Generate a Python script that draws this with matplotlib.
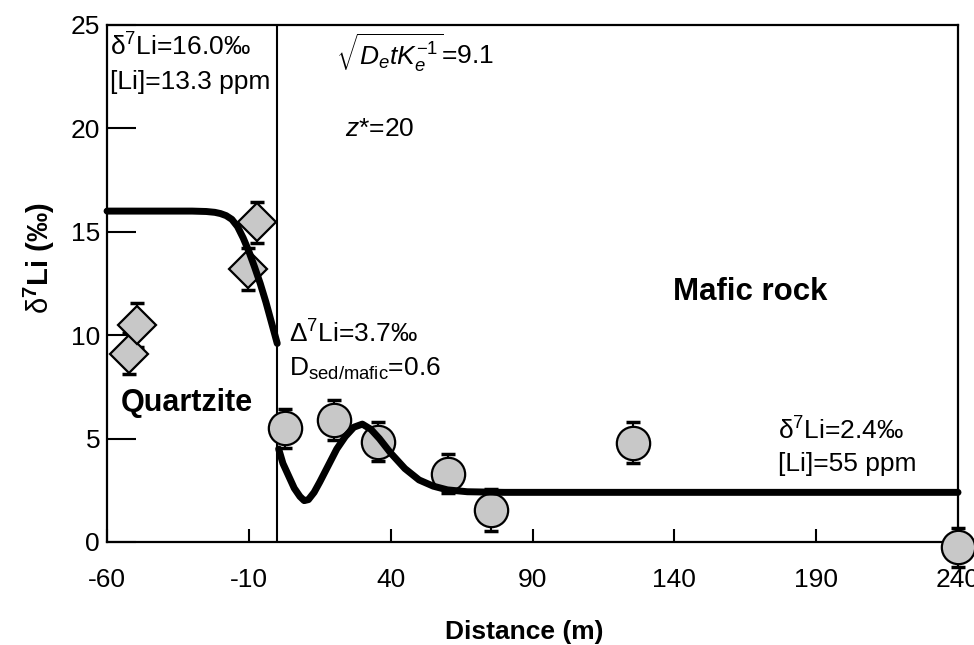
import matplotlib
matplotlib.use("Agg")
import matplotlib.pyplot as plt

plt.rcParams['font.family'] = ['Liberation Sans', 'DejaVu Sans']
plt.rcParams['mathtext.fontset'] = 'custom'
plt.rcParams['mathtext.rm'] = 'Liberation Sans'
plt.rcParams['mathtext.it'] = 'Liberation Sans:italic'
plt.rcParams['mathtext.bf'] = 'Liberation Sans:bold'
plt.rcParams['axes.unicode_minus'] = False

# Quartzite samples (diamonds)
quartz_x = [-52.2, -49.4, -10.2, -7.1]
quartz_y = [9.1, 10.5, 13.2, 15.45]
quartz_err = [1.0, 1.05, 1.0, 1.0]

# Mafic rock samples (circles)
mafic_x = [2.8, 20.1, 35.6, 60.2, 75.5, 125.3, 240.0]
mafic_y = [5.5, 5.9, 4.85, 3.3, 1.55, 4.8, -0.25]
mafic_err = [0.95, 0.95, 0.95, 0.95, 1.0, 1.0, 0.95]

# Model curve, sediment side
sed_curve_x = [-60, -40, -30, -25, -22, -20, -18, -16, -14, -12, -10, -8, -6, -4, -2, 0]
sed_curve_y = [16.0, 16.0, 16.0, 15.98, 15.94, 15.88, 15.78, 15.6, 15.25, 14.7, 14.05, 13.3, 12.5, 11.6, 10.6, 9.6]

# Model curve, mafic side
mafic_curve_x = [0.5, 2, 4, 6, 8, 9.5, 11, 13, 15, 18, 21, 24, 27, 30, 33, 36,
                 40, 45, 50, 55, 60, 67, 80, 240]
mafic_curve_y = [4.5, 3.8, 3.2, 2.6, 2.2, 2.0, 2.05, 2.4, 2.9, 3.7, 4.5, 5.1, 5.55, 5.7, 5.45, 5.0,
                 4.3, 3.55, 3.0, 2.7, 2.52, 2.43, 2.4, 2.4]

x_ticks = [-60, -10, 40, 90, 140, 190, 240]
y_ticks = [0, 5, 10, 15, 20, 25]

fig = plt.figure(figsize=(9.74, 6.45), dpi=100)
ax = fig.add_axes([0.1099, 0.1597, 0.8737, 0.8016])

gray = '#c8c8c8'
ax.errorbar(quartz_x, quartz_y, yerr=quartz_err, fmt='none', ecolor='black',
            elinewidth=1.5, capsize=5, capthick=2.5, zorder=2, clip_on=False)
ax.plot(quartz_x, quartz_y, 'D', ms=19, mfc=gray, mec='black', mew=1.6,
        zorder=3, clip_on=False)
ax.errorbar(mafic_x, mafic_y, yerr=mafic_err, fmt='none', ecolor='black',
            elinewidth=1.5, capsize=5, capthick=2.5, zorder=2, clip_on=False)
ax.plot(mafic_x, mafic_y, 'o', ms=24, mfc=gray, mec='black', mew=1.6,
        zorder=3, clip_on=False)

ax.plot(sed_curve_x, sed_curve_y, color='black', lw=5, solid_capstyle='round',
        solid_joinstyle='round', zorder=4, clip_on=False)
ax.plot(mafic_curve_x, mafic_curve_y, color='black', lw=5, solid_capstyle='round',
        solid_joinstyle='round', zorder=4, clip_on=False)

# contact between quartzite and mafic rock
ax.axvline(0, color='black', lw=1.5, zorder=1)

ax.set_xlim(-60, 240)
ax.set_ylim(0, 25)
ax.set_xticks(x_ticks)
ax.set_yticks(y_ticks)
ax.tick_params(axis='y', direction='in', length=21, width=1.5, labelsize=19, pad=5)
ax.tick_params(axis='x', direction='in', length=9.5, width=1.5, labelsize=19, pad=19)
for s in ax.spines.values():
    s.set_linewidth(1.6)

ax.set_xlabel('Distance (m)', fontsize=19, fontweight='bold', va='center')
ax.xaxis.set_label_coords(0.49, -0.174)
ax.set_ylabel(r'$\mathrm{\delta}^{\mathbf{7}}$' + 'Li (‰)', fontsize=21,
              fontweight='bold', va='center')
ax.yaxis.set_label_coords(-0.079, 0.549)

fs = 19
ax.text(-58.8, 23.5, 'δ$^{7}$Li=16.0‰', fontsize=fs, va='baseline')
ax.text(-58.8, 21.9, '[Li]=13.3 ppm', fontsize=fs, va='baseline')
ax.text(20.8, 23.1, r'$\sqrt{D_etK_e^{-1}}$=9.1', fontsize=fs, va='baseline')
ax.text(23.9, 19.65, r'$z$*=20', fontsize=fs, va='baseline')
ax.text(4.2, 9.62, 'Δ$^{7}$Li=3.7‰', fontsize=fs, va='baseline')
ax.text(4.2, 8.03, r'D$_{\mathrm{sed/mafic}}$=0.6', fontsize=fs, va='baseline')
ax.text(176.5, 4.95, 'δ$^{7}$Li=2.4‰', fontsize=fs, va='baseline')
ax.text(176.5, 3.45, '[Li]=55 ppm', fontsize=fs, va='baseline')
ax.text(-31.8, 6.72, 'Quartzite', fontsize=22, fontweight='bold', ha='center', va='center')
ax.text(166.7, 12.09, 'Mafic rock', fontsize=22.5, fontweight='bold', ha='center', va='center')

fig.savefig('out.png', dpi=100)
